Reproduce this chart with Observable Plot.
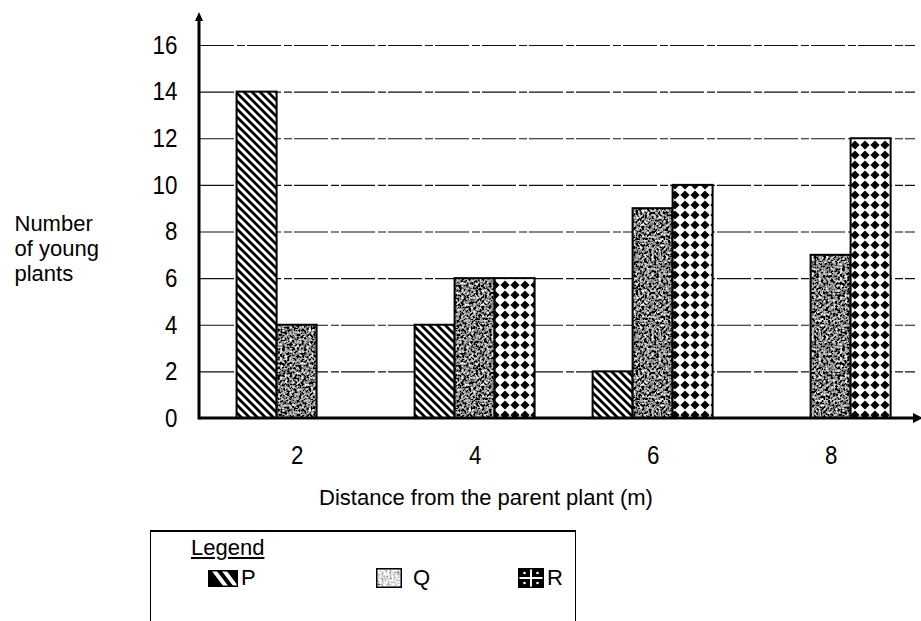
<!DOCTYPE html>
<html><head><meta charset="utf-8">
<script src="https://cdn.jsdelivr.net/npm/d3@7"></script>
<script src="https://cdn.jsdelivr.net/npm/@observablehq/plot@0.6"></script>
<style>
body{margin:0;background:#fff;font-family:"Liberation Sans",Arial,sans-serif;color:#000;}
#wrap{position:relative;width:921px;height:621px;overflow:hidden;background:#fff;}
#legend{position:absolute;left:150px;top:530px;width:426px;height:110px;border:1.5px solid #000;border-top-width:2.5px;box-sizing:border-box;}
.lt{position:absolute;font-size:22px;text-decoration:underline;text-underline-offset:2px;}
.li{position:absolute;font-size:22px;line-height:22px;display:flex;align-items:center;gap:3px;}
</style></head><body><div id="wrap"></div>
<script>
// ---- data ----
const distances = [2, 4, 6, 8];
const series = ["P", "Q", "R"];
const valuesP = [14, 4, 2, 0];
const valuesQ = [4, 6, 9, 7];
const valuesR = [0, 6, 10, 12];
const yTicks = [0, 2, 4, 6, 8, 10, 12, 14, 16];
const xTitle = "Distance from the parent plant (m)";
const yTitle = "Number\nof young\nplants";
const legendTitle = "Legend";

const seriesValues = {P: valuesP, Q: valuesQ, R: valuesR};
const data = [];
distances.forEach((d, i) => series.forEach(s => data.push({distance: d, series: s, value: seriesValues[s][i]})));

const W = 921, H = 525, ml = 200, mr = 6, mt = 45, y0px = 418;

const chart = Plot.plot({
  width: W, height: H,
  marginLeft: ml, marginRight: mr, marginTop: mt, marginBottom: H - y0px,
  style: {fontFamily: '"Liberation Sans", Arial, sans-serif', fontSize: "23px", color: "#000", background: "#fff", overflow: "visible"},
  x: {type: "band", domain: distances, paddingInner: 0.3258, paddingOuter: 0.1713, align: 0.6, round: false, tickSize: 0, tickPadding: 27, label: null},
  y: {domain: [0, 16], ticks: yTicks, tickSize: 0, tickPadding: 23, label: null},
  marks: [
    Plot.ruleY(yTicks.filter(t => t > 0), {stroke: "#111", strokeWidth: 1.1, strokeDasharray: "34 3 8 2"}),
    ...series.map((s, k) => Plot.barY(data.filter(d => d.series === s && d.value > 0), {
      x: "distance", y: "value", fill: `url(#pat${s})`, stroke: "#000", strokeWidth: 2,
      insetLeft: 40 * k, insetRight: 40 * (2 - k)
    })),
    Plot.text([xTitle], {text: d => d, frameAnchor: "bottom", lineAnchor: "middle", dy: 79, dx: -72, fontSize: 22}),
    Plot.text([yTitle], {text: d => d, frameAnchor: "left", textAnchor: "start", lineAnchor: "middle", lineHeight: 1.15, dx: -186, dy: 16, fontSize: 22})
  ]
});

const svg = d3.select(chart);
svg.selectAll('g[aria-label*="axis"] text').style("font-size", "26px");

svg.insert("defs", ":first-child").html(`
  <pattern id="patP" patternUnits="userSpaceOnUse" width="8" height="8">
    <rect width="8" height="8" fill="#fff"/>
    <path d="M-2,-2 L10,10 M-2,6 L2,10 M6,-2 L10,2" stroke="#000" stroke-width="2.7"/>
  </pattern>
  <filter id="noiseF" x="0" y="0" width="100%" height="100%">
    <feTurbulence type="fractalNoise" baseFrequency="0.42" numOctaves="2" seed="7"/>
    <feColorMatrix type="matrix" values="0.33 0.33 0.33 0 0  0.33 0.33 0.33 0 0  0.33 0.33 0.33 0 0  0 0 0 0 1"/>
    <feComponentTransfer>
      <feFuncR type="linear" slope="4.5" intercept="-2.0"/>
      <feFuncG type="linear" slope="4.5" intercept="-2.0"/>
      <feFuncB type="linear" slope="4.5" intercept="-2.0"/>
    </feComponentTransfer>
  </filter>
  <pattern id="patQ" patternUnits="userSpaceOnUse" width="80" height="80">
    <rect width="80" height="80" fill="#777" filter="url(#noiseF)"/>
  </pattern>
  <filter id="noiseL" x="0" y="0" width="100%" height="100%">
    <feTurbulence type="fractalNoise" baseFrequency="0.5" numOctaves="2" seed="3"/>
    <feColorMatrix type="matrix" values="0.33 0.33 0.33 0 0  0.33 0.33 0.33 0 0  0.33 0.33 0.33 0 0  0 0 0 0 1"/>
    <feComponentTransfer>
      <feFuncR type="linear" slope="4" intercept="-1.2"/>
      <feFuncG type="linear" slope="4" intercept="-1.2"/>
      <feFuncB type="linear" slope="4" intercept="-1.2"/>
    </feComponentTransfer>
  </filter>
  <pattern id="patQL" patternUnits="userSpaceOnUse" width="40" height="40">
    <rect width="40" height="40" fill="#999" filter="url(#noiseL)"/>
  </pattern>
  <pattern id="patR" patternUnits="userSpaceOnUse" width="10" height="10">
    <rect width="10" height="10" fill="#fff"/>
    <polygon points="5,0.4 9.6,5 5,9.6 0.4,5" fill="#000"/>
  </pattern>
`);

// axis lines with arrowheads, placed through the plot's scales
const ys = chart.scale("y");
const yb = ys.apply(0);
const ytop = ys.apply(16) - 33;
const xr = W - mr;
const ax = svg.append("g");
ax.append("line").attr("x1", ml - 1).attr("x2", xr + 2).attr("y1", yb).attr("y2", yb).attr("stroke", "#000").attr("stroke-width", 3);
ax.append("polygon").attr("points", `${xr + 8},${yb} ${xr - 2},${yb - 5} ${xr - 2},${yb + 5}`).attr("fill", "#000");
ax.append("line").attr("x1", ml - 1).attr("x2", ml - 1).attr("y1", yb + 1.5).attr("y2", ytop + 6).attr("stroke", "#000").attr("stroke-width", 3);
ax.append("polygon").attr("points", `${ml - 1},${ytop} ${ml - 5},${ytop + 9} ${ml + 3},${ytop + 9}`).attr("fill", "#000");

const wrap = document.getElementById("wrap");
wrap.appendChild(chart);
chart.style.position = "absolute"; chart.style.left = "0"; chart.style.top = "0";

// condense tick digits (the reference uses a narrow face)
svg.selectAll('g[aria-label*="axis"] text').each(function() {
  const len = this.getComputedTextLength();
  if (len > 0) { this.setAttribute("textLength", (len * 0.86).toFixed(1)); this.setAttribute("lengthAdjust", "spacingAndGlyphs"); }
});

// legend
const leg = document.createElement("div");
leg.id = "legend";
const swatch = (s) => {
  const pats = {
    P: `<rect width="30" height="17" fill="#000"/><path d="M4,-2 L20,19 M14,-2 L30,19" stroke="#fff" stroke-width="4"/><rect x="0.75" y="0.75" width="28.5" height="15.5" fill="none" stroke="#000" stroke-width="1.5"/>`,
    Q: `<rect width="26" height="20" fill="url(#patQL)"/><rect x="0.75" y="0.75" width="24.5" height="18.5" fill="none" stroke="#000" stroke-width="1.5"/>`,
    R: `<rect width="26" height="20" fill="#000"/><g fill="#fff"><rect x="12" y="0" width="2" height="20"/><rect x="0" y="9" width="26" height="2"/><circle cx="6.5" cy="5" r="1.3"/><circle cx="19.5" cy="5" r="1.3"/><circle cx="6.5" cy="15" r="1.3"/><circle cx="19.5" cy="15" r="1.3"/></g><rect x="0.75" y="0.75" width="24.5" height="18.5" fill="none" stroke="#000" stroke-width="1.5"/>`
  };
  const w = s === "P" ? 30 : 26, h = s === "P" ? 17 : 20;
  return `<svg width="${w}" height="${h}" style="display:block">${pats[s]}</svg>`;
};
const legPos = {P: 57, Q: 225, R: 367};
leg.innerHTML = `<div class="lt" style="left:40px;top:3px;">${legendTitle}</div>` +
  series.map(s => `<div class="li" style="left:${legPos[s]}px;top:35px;">${swatch(s)}<span style="margin-left:${s==='Q'?8:0}px">${s}</span></div>`).join("");
wrap.appendChild(leg);
</script></body></html>
